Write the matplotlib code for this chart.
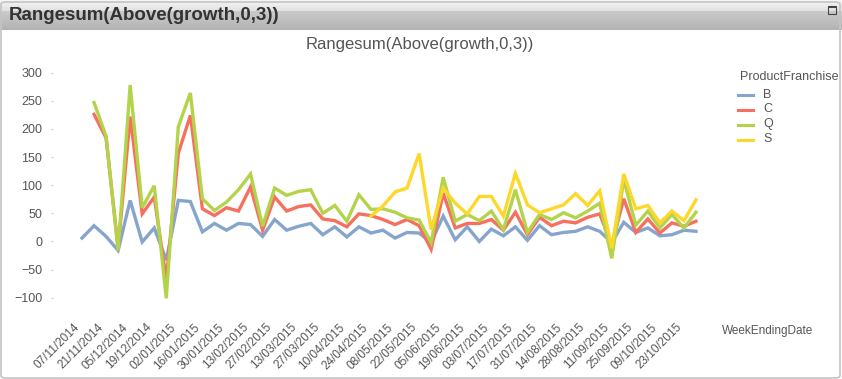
import matplotlib
matplotlib.use('Agg')
import numpy as np
import pandas as pd
import matplotlib.pyplot as plt
from matplotlib.lines import Line2D
from matplotlib.patches import Rectangle, FancyBboxPatch

# data (weekly)
weeks = pd.date_range('2014-11-07', periods=52, freq='7D')
week_labels = [d.strftime('%d/%m/%Y') for d in weeks]

series_names = ['B', 'C', 'Q', 'S']
B = [6, 28, 9, -16, 73, -1, 24, -33, 73, 71,
     17, 32, 20, 32, 30, 9, 39, 20, 27, 32,
     12, 26, 8, 26, 15, 20, 6, 16, 15, -2,
     45, 3, 26, 0, 22, 10, 26, 2, 28, 12,
     16, 18, 26, 18, -2, 34, 16, 24, 10, 12,
     20, 18]
C = [None, 226, 184, -12, 222, 49, 79, -68, 157, 224,
     58, 46, 60, 54, 97, 20, 79, 54, 62, 65,
     40, 37, 26, 49, 46, 39, 30, 39, 28, -14,
     86, 24, 32, 32, 39, 20, 52, 12, 43, 28,
     36, 33, 43, 49, -6, 76, 16, 40, 15, 33,
     27, 36]
Q = [None, 247, 187, -16, 278, 60, 99, -101, 204, 264,
     76, 55, 70, 92, 120, 27, 95, 82, 89, 92,
     50, 64, 36, 83, 57, 58, 52, 42, 38, -2,
     114, 36, 48, 37, 54, 21, 92, 16, 48, 39,
     51, 42, 54, 68, -30, 110, 29, 54, 24, 48,
     24, 52]
S = [None] * 24 + [45, 63, 88, 95, 156, 21,
     95, 68, 49, 80, 80, 45, 121, 65, 51, 58,
     65, 85, 64, 90, -12, 120, 58, 64, 33, 54,
     37, 74]
colors = ['#86a5cc', '#f7705f', '#b3d34a', '#fdd82a']

W, H = 842, 379
fig = plt.figure(figsize=(W / 100, H / 100), dpi=100)
fig.patch.set_facecolor('white')

fnt = ['Liberation Sans', 'DejaVu Sans']
txt_col = '#555555'

# window header bar with gradient
hdr = fig.add_axes([0, 1 - 30 / H, 1, 30 / H])
grad = np.concatenate([np.linspace(0.96, 0.88, 11), np.linspace(0.79, 0.70, 19)])
hdr.imshow(np.tile(grad[:, None], (1, 10)), cmap='gray', vmin=0, vmax=1,
           aspect='auto', extent=[0, 1, 0, 1])
hdr.set_axis_off()
fig.text(9 / W, 1 - 15 / H, 'Rangesum(Above(growth,0,3))', family=fnt,
         fontsize=13.5, fontweight='bold', color='#333333', va='center', ha='left')
fig.add_artist(Rectangle((828 / W, 1 - 14 / H), 8 / W, 8 / H, transform=fig.transFigure,
                         fill=False, edgecolor='#444444', lw=0.8))
fig.add_artist(Rectangle((828 / W, 1 - 8 / H), 8 / W, 2 / H, transform=fig.transFigure,
                         facecolor='#444444', edgecolor='none'))
fig.add_artist(FancyBboxPatch((1 / W, 1 / H), 839 / W, 376 / H, transform=fig.transFigure,
                              boxstyle='round,pad=0,rounding_size=0.006', fill=False,
                              edgecolor='#c4c4c4', lw=1.2))

# chart title
fig.text(420 / W, 1 - 44 / H, 'Rangesum(Above(growth,0,3))', family=fnt,
         fontsize=12, color=txt_col, ha='center', va='center')

# plot area
x0, x1 = 82, 696
ytop, ybot = 72.7, 297.7
ax = fig.add_axes([x0 / W, 1 - ybot / H, (x1 - x0) / W, (ybot - ytop) / H])
x = np.arange(len(weeks))
for name, vals, c in zip(series_names, [B, C, Q, S], colors):
    y = np.array([np.nan if v is None else v for v in vals], dtype=float)
    ax.plot(x, y, color=c, lw=2.4, solid_joinstyle='miter', clip_on=False, label=name)

ax.set_xlim(0, len(weeks) - 1)
ax.set_ylim(-100, 300)
ax.set_yticks(np.arange(-100, 301, 50))
for s in ax.spines.values():
    s.set_visible(False)
ax.spines['left'].set_position(('outward', 21))   # points, ~29 px
ax.tick_params(axis='y', length=1.5, width=0.8, color='#cccccc', pad=6,
               labelsize=9, labelcolor=txt_col)
ax.set_xticks(x[::2])
ax.set_xticklabels(week_labels[::2], rotation=45, ha='right', va='top')
ax.tick_params(axis='x', length=0, pad=17, labelsize=8.5, labelcolor=txt_col)
for lab in ax.get_xticklabels() + ax.get_yticklabels():
    lab.set_family(fnt)
ax.patch.set_alpha(0)

fig.text(722 / W, 1 - 331 / H, 'WeekEndingDate', family=fnt, fontsize=8.5,
         color=txt_col, ha='left', va='center')

# legend
fig.text(740 / W, 1 - 77 / H, 'ProductFranchise', family=fnt, fontsize=9,
         color=txt_col, ha='left', va='center')
for k, (name, c) in enumerate(zip(series_names, colors)):
    yy = 1 - (94.5 + 15 * k) / H
    fig.add_artist(Line2D([738 / W, 753 / W], [yy, yy], transform=fig.transFigure,
                          color=c, lw=2.2))
    fig.text(763 / W, yy, name, family=fnt, fontsize=9, color=txt_col,
             ha='left', va='center')

fig.savefig('out.png', dpi=100)
